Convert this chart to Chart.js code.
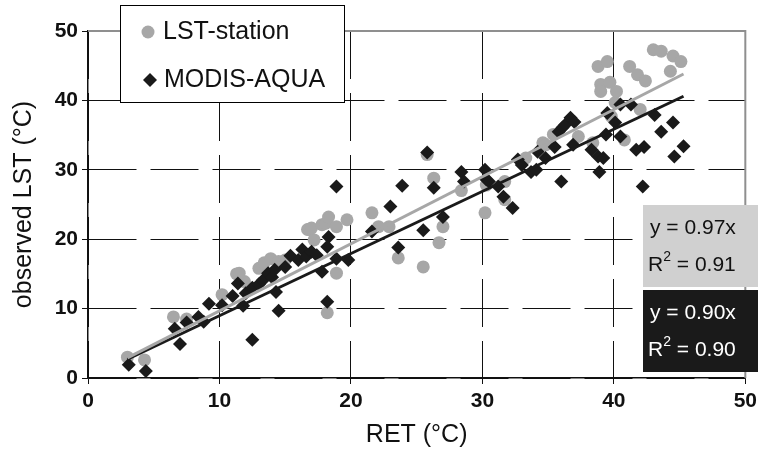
<!DOCTYPE html>
<html>
<head>
<meta charset="utf-8">
<script src="https://cdn.jsdelivr.net/npm/chart.js@4/dist/chart.umd.min.js"></script>
<style>
  body { margin: 0; background: #fff; }
</style>
</head>
<body>
<canvas id="lstChart" width="762" height="453"></canvas>
<script>
// LST-station points
var retLst = [3.0, 4.3, 6.5, 7.5, 10.2, 11.3, 11.9, 11.5, 13.0, 13.4, 13.9, 14.5, 15.0, 16.8, 16.7, 17.2, 17.0,
    17.8, 18.1, 18.3, 18.9, 19.7, 18.9, 18.2, 21.6, 22.1, 22.9, 23.6, 25.5, 25.8, 26.3, 27.0, 26.7, 28.4, 30.2,
    30.3, 31.7, 31.7, 33.3, 34.6, 34.8, 35.4, 37.3, 38.4, 40.8, 39.8, 40.1, 42.0, 38.8, 39.5, 39.0, 39.7, 40.2,
    39.0, 41.2, 41.8, 42.4, 43.0, 43.6, 44.5, 45.1, 44.3];
var obsLst = [3.0, 2.6, 8.8, 8.5, 12.0, 15.0, 13.9, 15.1, 15.8, 16.6, 17.2, 16.8, 17.0, 21.4, 21.4, 19.9, 21.6,
    22.1, 22.3, 23.2, 21.8, 22.8, 15.1, 9.4, 23.8, 21.8, 21.8, 17.3, 16.0, 32.2, 28.8, 21.8, 19.5, 27.0, 23.8,
    27.8, 25.7, 28.3, 31.7, 33.9, 33.6, 35.1, 34.8, 33.9, 34.3, 37.7, 39.7, 38.7, 44.9, 45.6, 42.3, 42.6, 41.3,
    41.3, 44.9, 43.7, 42.8, 47.3, 47.1, 46.4, 45.6, 44.2];

// MODIS-AQUA points
var retModis = [3.1, 4.4, 6.6, 7.0, 7.5, 8.4, 8.8, 9.2, 10.2, 11.0, 11.4, 11.8, 12.0, 12.5, 12.5, 13.0, 13.3, 13.7,
    14.0, 14.3, 14.5, 14.2, 15.0, 15.4, 16.0, 16.3, 16.6, 17.0, 17.4, 17.8, 18.2, 18.3, 18.2, 18.9, 19.8, 21.6,
    18.9, 23.0, 23.9, 23.6, 25.5, 25.8, 26.3, 27.0, 28.4, 28.6, 30.2, 30.3, 30.5, 31.2, 31.6, 32.3, 32.7, 33.0,
    33.7, 34.1, 34.2, 34.8, 35.5, 35.8, 36.0, 36.1, 36.3, 36.7, 37.0, 36.9, 38.3, 38.8, 38.9, 39.2, 39.4, 39.5,
    40.1, 40.5, 40.5, 41.3, 41.7, 42.3, 42.2, 43.1, 43.6, 44.5, 44.6, 45.3];
var obsModis = [1.9, 1.0, 7.1, 4.9, 8.0, 8.8, 8.1, 10.7, 10.5, 11.8, 13.6, 10.4, 12.2, 5.5, 13.0, 13.5, 14.1, 15.1,
    14.5, 12.4, 9.7, 15.6, 16.0, 17.6, 17.0, 18.5, 17.5, 18.2, 17.7, 15.3, 11.0, 20.3, 18.9, 17.2, 17.0, 21.1,
    27.6, 24.7, 27.7, 18.8, 21.3, 32.5, 27.4, 23.2, 29.7, 28.3, 30.0, 28.6, 28.3, 27.6, 26.1, 24.5, 31.5, 30.7,
    29.7, 30.0, 32.6, 31.7, 33.3, 35.5, 28.3, 36.1, 36.5, 37.5, 36.9, 33.6, 32.9, 31.9, 29.7, 31.7, 35.1, 38.2,
    36.8, 34.8, 39.4, 39.4, 32.9, 33.3, 27.6, 37.9, 35.5, 36.8, 31.9, 33.4];

// fitted lines (end points)
var trendX = [3.0, 45.3];
var lstTrendY = [2.9, 43.8];
var modisTrendY = [2.7, 40.6];

var lstStats = ['y = 0.97x', '0.91'];
var modisStats = ['y = 0.90x', '0.90'];

var tickValues = [0, 10, 20, 30, 40, 50];

var FONT = "'Liberation Sans', Arial, sans-serif";
var GREY = '#a7a7a7';
var DARK = '#1a1a1a';

function toPoints(xs, ys) {
    var pts = [];
    xs.forEach(function (x, i) {
        pts.push({ x: x, y: ys[i] });
    });
    return pts;
}

// gray top/right frame
const framePlugin = {
    id: 'frame',
    beforeDatasetsDraw(chart) {
        const { ctx, chartArea: a } = chart;
        ctx.save();
        ctx.strokeStyle = '#8f8f8f';
        ctx.lineWidth = 2;
        ctx.beginPath();
        ctx.moveTo(a.left, a.top);
        ctx.lineTo(a.right, a.top);
        ctx.lineTo(a.right, a.bottom);
        ctx.stroke();
        ctx.restore();
    }
};

function drawStatBox(ctx, x, y, fill, color, stats) {
    ctx.fillStyle = fill;
    ctx.fillRect(x, y, 115, 82);
    ctx.fillStyle = color;
    ctx.textBaseline = 'middle';
    ctx.textAlign = 'left';
    ctx.font = '21px ' + FONT;
    ctx.fillText(stats[0], x + 7, y + 23);
    var w = ctx.measureText('R').width;
    ctx.fillText('R', x + 5, y + 60);
    ctx.font = '14px ' + FONT;
    ctx.fillText('2', x + 5 + w, y + 52);
    var w2 = ctx.measureText('2').width;
    ctx.font = '21px ' + FONT;
    ctx.fillText(' = ' + stats[1], x + 5 + w + w2, y + 60);
}

// legend box and the two equation boxes
const boxPlugin = {
    id: 'boxes',
    afterDraw(chart) {
        const ctx = chart.ctx;
        ctx.save();
        ctx.fillStyle = '#fff';
        ctx.fillRect(121, 6, 223, 96);
        ctx.strokeStyle = '#000';
        ctx.lineWidth = 1;
        ctx.strokeRect(120.5, 5.5, 224, 97);

        ctx.fillStyle = GREY;
        ctx.beginPath();
        ctx.arc(148, 32, 6.5, 0, Math.PI * 2);
        ctx.fill();

        ctx.fillStyle = DARK;
        ctx.beginPath();
        ctx.moveTo(150, 73);
        ctx.lineTo(157, 80);
        ctx.lineTo(150, 87);
        ctx.lineTo(143, 80);
        ctx.closePath();
        ctx.fill();

        ctx.fillStyle = '#111';
        ctx.font = '25px ' + FONT;
        ctx.textBaseline = 'middle';
        ctx.fillText(chart.data.datasets[0].label, 163, 32);
        ctx.fillText(chart.data.datasets[1].label, 164, 80);

        drawStatBox(ctx, 643, 205, '#d0d0d0', '#111', lstStats);
        drawStatBox(ctx, 643, 290, DARK, '#fff', modisStats);
        ctx.restore();
    }
};

function gridColor(c) {
    return c.tick && c.tick.value === 50 ? 'rgba(0,0,0,0)' : '#111';
}

var ctx = document.getElementById('lstChart');

new Chart(ctx, {
    type: 'scatter',
    data: {
        datasets: [
            {
                label: 'LST-station',
                data: toPoints(retLst, obsLst),
                pointStyle: 'circle',
                pointRadius: 6.5,
                backgroundColor: GREY,
                borderWidth: 0,
                order: 4
            },
            {
                label: 'MODIS-AQUA',
                data: toPoints(retModis, obsModis),
                pointStyle: 'rectRot',
                pointRadius: 7,
                backgroundColor: DARK,
                borderWidth: 0,
                order: 3
            },
            {
                label: 'MODIS fit',
                data: toPoints(trendX, modisTrendY),
                showLine: true,
                pointRadius: 0,
                borderColor: DARK,
                borderWidth: 3,
                order: 2
            },
            {
                label: 'LST fit',
                data: toPoints(trendX, lstTrendY),
                showLine: true,
                pointRadius: 0,
                borderColor: GREY,
                borderWidth: 3,
                order: 1
            }
        ]
    },
    options: {
        responsive: false,
        animation: false,
        layout: { padding: { left: 0, top: 31, right: 14, bottom: 0 } },
        plugins: {
            legend: { display: false },
            tooltip: { enabled: false }
        },
        scales: {
            x: {
                type: 'linear',
                min: 0,
                max: 50,
                afterBuildTicks: function (s) { s.ticks = tickValues.map(function (v) { return { value: v }; }); },
                afterFit: function (s) { s.height = 75; },
                grid: { color: gridColor, lineWidth: 1, tickLength: 6, tickColor: '#111' },
                border: { display: true, color: '#111', width: 1.5, dash: [48, 14] },
                ticks: { color: '#111', padding: 5, font: { family: FONT, size: 21, weight: 'bold' } },
                title: { display: true, text: 'RET (°C)', color: '#111', padding: { top: 0, bottom: 3 }, font: { family: FONT, size: 25 } }
            },
            y: {
                type: 'linear',
                min: 0,
                max: 50,
                afterBuildTicks: function (s) { s.ticks = tickValues.map(function (v) { return { value: v }; }); },
                afterFit: function (s) { s.width = 88; },
                grid: { color: gridColor, lineWidth: 1, tickLength: 6, tickColor: '#111' },
                border: { display: true, color: '#111', width: 1.5, dash: [48, 14] },
                ticks: { color: '#111', padding: 4, font: { family: FONT, size: 21, weight: 'bold' } },
                title: { display: true, text: 'observed LST (°C)', color: '#111', padding: { top: 9, bottom: 0 }, font: { family: FONT, size: 25 } }
            }
        }
    },
    plugins: [framePlugin, boxPlugin]
});
</script>
</body>
</html>
